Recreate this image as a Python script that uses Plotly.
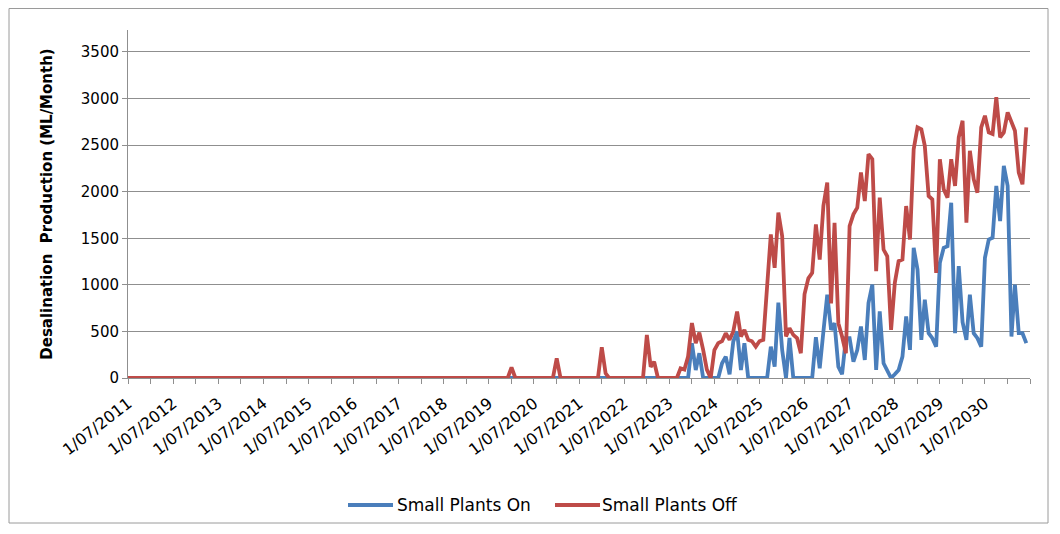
import pandas as pd
import plotly.graph_objects as go

# Monthly dates: July 2011 .. June 2031 (one row per financial year below)
months = pd.date_range("2011-07-01", periods=240, freq="MS")

small_plants_on = [
    0, 0, 0, 0, 0, 0, 0, 0, 0, 0, 0, 0,          # 2011/12
    0, 0, 0, 0, 0, 0, 0, 0, 0, 0, 0, 0,          # 2012/13
    0, 0, 0, 0, 0, 0, 0, 0, 0, 0, 0, 0,          # 2013/14
    0, 0, 0, 0, 0, 0, 0, 0, 0, 0, 0, 0,          # 2014/15
    0, 0, 0, 0, 0, 0, 0, 0, 0, 0, 0, 0,          # 2015/16
    0, 0, 0, 0, 0, 0, 0, 0, 0, 0, 0, 0,          # 2016/17
    0, 0, 0, 0, 0, 0, 0, 0, 0, 0, 0, 0,          # 2017/18
    0, 0, 0, 0, 0, 0, 0, 0, 0, 0, 0, 0,          # 2018/19
    0, 0, 0, 0, 0, 0, 0, 0, 0, 0, 0, 0,          # 2019/20
    0, 0, 0, 0, 0, 0, 0, 0, 0, 0, 0, 0,          # 2020/21
    0, 0, 0, 0, 0, 0, 0, 0, 0, 0, 0, 0,          # 2021/22
    0, 0, 0, 0, 0, 0, 0, 0, 0, 0, 0, 0,          # 2022/23
    0, 0, 0, 0, 0, 0, 374, 86, 266, 0, 0, 0,     # 2023/24
    0, 0, 158, 230, 40, 392, 500, 86, 374, 0, 0, 0,            # 2024/25
    0, 0, 0, 337, 122, 810, 300, 0, 430, 0, 0, 0,              # 2025/26
    0, 0, 0, 437, 104, 500, 894, 517, 589, 122, 40, 428,       # 2026/27
    428, 176, 300, 553, 194, 804, 1002, 86, 714, 158, 86, 0,   # 2027/28
    40, 86, 230, 661, 302, 1397, 1164, 410, 840, 481, 428, 337,        # 2028/29
    1236, 1397, 1415, 1882, 481, 1200, 600, 410, 894, 481, 428, 337,   # 2029/30
    1290, 1487, 1505, 2062, 1685, 2277, 2062, 445, 1002, 481, 481, 374, # 2030/31
]

small_plants_off = [
    0, 0, 0, 0, 0, 0, 0, 0, 0, 0, 0, 0,          # 2011/12
    0, 0, 0, 0, 0, 0, 0, 0, 0, 0, 0, 0,          # 2012/13
    0, 0, 0, 0, 0, 0, 0, 0, 0, 0, 0, 0,          # 2013/14
    0, 0, 0, 0, 0, 0, 0, 0, 0, 0, 0, 0,          # 2014/15
    0, 0, 0, 0, 0, 0, 0, 0, 0, 0, 0, 0,          # 2015/16
    0, 0, 0, 0, 0, 0, 0, 0, 0, 0, 0, 0,          # 2016/17
    0, 0, 0, 0, 0, 0, 0, 0, 0, 0, 0, 0,          # 2017/18
    0, 0, 0, 0, 0, 0, 0, 0, 0, 0, 0, 0,          # 2018/19
    0, 0, 0, 0, 0, 0, 115, 0, 0, 0, 0, 0,        # 2019/20
    0, 0, 0, 0, 0, 0, 212, 0, 0, 0, 0, 0,        # 2020/21
    0, 0, 0, 0, 0, 0, 330, 50, 0, 0, 0, 0,       # 2021/22
    0, 0, 0, 0, 0, 0, 463, 120, 175, 0, 0, 0,    # 2022/23
    0, 0, 0, 104, 90, 230, 590, 374, 488, 302, 90, 0,                  # 2023/24
    300, 374, 395, 481, 410, 500, 714, 445, 517, 410, 395, 337,        # 2024/25
    395, 410, 1020, 1541, 1182, 1775, 1523, 445, 535, 463, 428, 266,   # 2025/26
    900, 1070, 1128, 1649, 1272, 1850, 2098, 800, 1667, 589, 445, 266, # 2026/27
    1631, 1757, 1829, 2206, 1900, 2403, 2349, 1146, 1936, 1379, 1307, 517,  # 2027/28
    1020, 1254, 1272, 1846, 1487, 2457, 2690, 2670, 2493, 1954, 1918, 1128, # 2028/29
    2349, 2026, 1936, 2349, 2062, 2583, 2762, 1667, 2439, 2134, 1990, 2690, # 2029/30
    2816, 2637, 2620, 3014, 2583, 2637, 2852, 2745, 2655, 2206, 2080, 2690, # 2030/31
]

series_names = ["Small Plants On", "Small Plants Off"]
series_colors = ["#4A7EBB", "#BE4B48"]

y_ticks = [0, 500, 1000, 1500, 2000, 2500, 3000, 3500]
label_years = list(range(2011, 2032))          # July ticks; 2031 tick is unlabeled
x_tickvals = [f"{y}-07-01" for y in label_years]
x_ticktext = [f"1/07/{y}" for y in label_years[:-1]] + [""]
x_minorvals = [f"{y}-01-01" for y in range(2012, 2032)]

FONT = "DejaVu Sans, sans-serif"
GRID = "#8f8f8f"

fig = go.Figure()
for name, vals, col in zip(series_names, [small_plants_on, small_plants_off], series_colors):
    fig.add_trace(go.Scatter(x=months, y=vals, mode="lines", name=name,
                             line=dict(color=col, width=3.8), showlegend=False))

# page has an 8px body margin; figure coordinates below are page coords minus 8
L, R, T, B = 120, 38, 22, 164
W, H = 1060, 534
pw, ph = W - L - R, H - T - B


def px(xf):
    return (xf - L) / pw


def py(yf):
    return (H - B - yf) / ph


fig.update_layout(
    width=W, height=H,
    margin=dict(l=L, r=R, t=T, b=B),
    paper_bgcolor="white", plot_bgcolor="white",
    font=dict(family=FONT, size=15, color="#000000"),
    showlegend=False,
    xaxis=dict(
        type="date",
        range=["2011-07-01", "2031-07-01"],
        tickmode="array", tickvals=x_tickvals, ticktext=x_ticktext,
        tickangle=-38,
        ticks="outside", ticklen=5, tickcolor=GRID,
        ticklabelstandoff=4,
        showline=True, linecolor=GRID, linewidth=1,
        showgrid=False, zeroline=False, automargin=False,
        minor=dict(tickmode="array", tickvals=x_minorvals, ticks="outside", ticklen=5,
                   tickcolor=GRID, showgrid=False),
        tickfont=dict(family=FONT, size=16),
    ),
    yaxis=dict(
        range=[0, 3736],
        tickvals=y_ticks,
        ticks="outside", ticklen=5, tickcolor=GRID,
        showline=True, linecolor=GRID, linewidth=1,
        showgrid=True, gridcolor=GRID, gridwidth=1,
        zeroline=False, automargin=False,
        tickfont=dict(family=FONT, size=15),
        title=dict(text="<b>Desalination  Production (ML/Month)</b>",
                   font=dict(family=FONT, size=15), standoff=24),
    ),
)

# legend (drawn manually so key lines match the reference length)
legend_items = [(340, 385, 387), (547, 592, 592)]
leg_y = 497
for (x0, x1, xt), name, col in zip(legend_items, series_names, series_colors):
    fig.add_shape(type="line", xref="paper", yref="paper",
                  x0=px(x0), x1=px(x1), y0=py(leg_y), y1=py(leg_y),
                  line=dict(color=col, width=4))
    fig.add_annotation(xref="paper", yref="paper", x=px(xt), y=py(leg_y),
                       xanchor="left", yanchor="middle", text=name, showarrow=False,
                       font=dict(family=FONT, size=17, color="#000000"))

# outer chart border
fig.add_shape(type="rect", xref="paper", yref="paper",
              x0=px(1), x1=px(1040), y0=py(515), y1=py(0.5),
              line=dict(color="#9a9a9a", width=1), fillcolor="rgba(0,0,0,0)",
              layer="below")

fig.write_html("out.html")
